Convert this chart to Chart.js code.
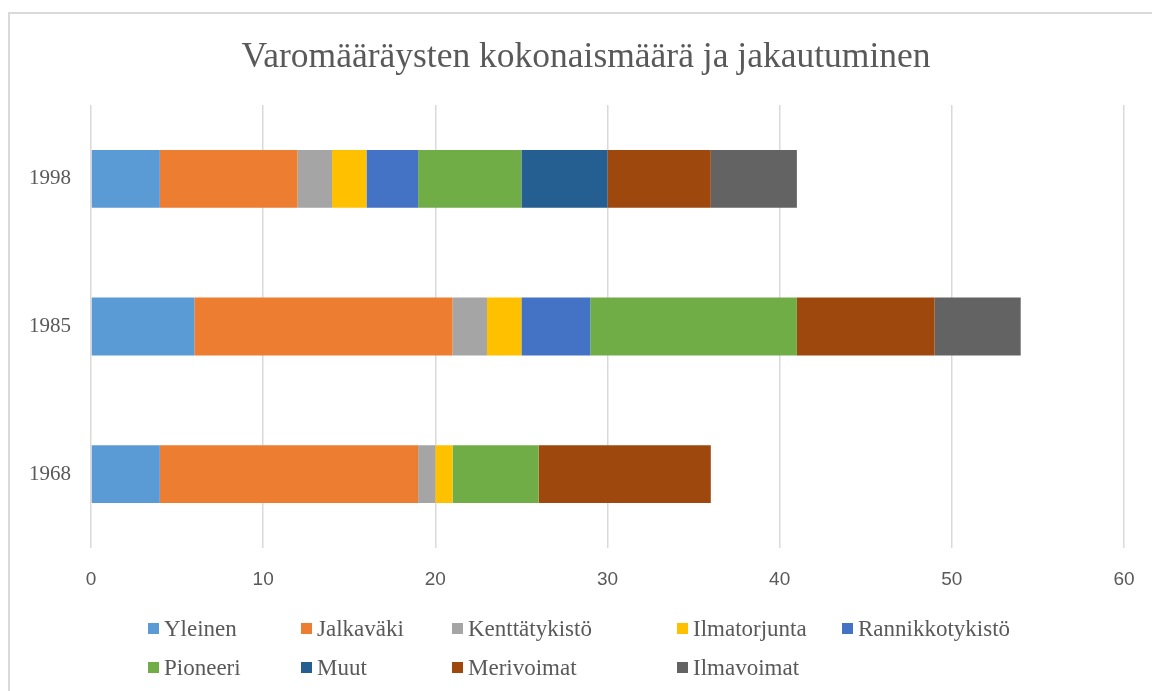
<!DOCTYPE html>
<html>
<head>
<meta charset="utf-8">
<script src="https://cdn.jsdelivr.net/npm/chart.js@4/dist/chart.umd.min.js"></script>
<style>
    html, body { margin: 0; padding: 0; background: #fff; overflow: hidden; }
    #wrap { position: relative; width: 1152px; height: 691px; }
    #frame { position: absolute; left: 8px; top: 12px; width: 1300px; height: 900px; border: 2px solid #d9d9d9; box-sizing: border-box; }
    #title { position: absolute; left: 0; top: 38px; width: 1172px; text-align: center; font-family: "Liberation Serif", serif; font-size: 35.5px; line-height: 35px; color: #595959; white-space: nowrap; }
    #legend { position: absolute; left: 0; top: 0; width: 1152px; height: 691px; pointer-events: none; }
    .item { position: absolute; font-family: "Liberation Serif", serif; font-size: 23px; color: #595959; white-space: nowrap; line-height: 24px; }
    .box { display: inline-block; width: 11px; height: 11px; margin-right: 5px; vertical-align: 2px; }
</style>
</head>
<body>
<div id="wrap">
    <div id="frame"></div>
    <canvas id="chart" width="1152" height="691"></canvas>
    <div id="title">Varomääräysten kokonaismäärä ja jakautuminen</div>
    <div id="legend"></div>
</div>
<script>
// Luokat ja sarjat
const years = ['1998', '1985', '1968'];
const seriesNames = ['Yleinen', 'Jalkaväki', 'Kenttätykistö', 'Ilmatorjunta', 'Rannikkotykistö', 'Pioneeri', 'Muut', 'Merivoimat', 'Ilmavoimat'];
const seriesColors = ['#5B9BD5', '#ED7D31', '#A5A5A5', '#FFC000', '#4472C4', '#70AD47', '#255E91', '#9E480E', '#636363'];

// Arvot vuosittain (1998, 1985, 1968)
const yleinen = [4, 6, 4];
const jalkavaki = [8, 15, 15];
const kenttatykisto = [2, 2, 1];
const ilmatorjunta = [2, 2, 1];
const rannikkotykisto = [3, 4, 0];
const pioneeri = [6, 12, 5];
const muut = [5, 0, 0];
const merivoimat = [6, 8, 10];
const ilmavoimat = [5, 5, 0];
const seriesValues = [yleinen, jalkavaki, kenttatykisto, ilmatorjunta, rannikkotykisto, pioneeri, muut, merivoimat, ilmavoimat];

const xTicks = [0, 10, 20, 30, 40, 50, 60];

const datasets = seriesNames.map((name, i) => ({
    label: name,
    data: seriesValues[i],
    backgroundColor: seriesColors[i],
    borderWidth: 0,
    categoryPercentage: 0.4,
    barPercentage: 0.98
}));

const chart = new Chart(document.getElementById('chart').getContext('2d'), {
    type: 'bar',
    data: { labels: years, datasets: datasets },
    options: {
        responsive: false,
        animation: false,
        indexAxis: 'y',
        layout: { padding: { top: 105, right: 28, left: 0, bottom: 0 } },
        plugins: {
            legend: { display: false },
            tooltip: { enabled: false },
            title: { display: false }
        },
        scales: {
            x: {
                stacked: true,
                min: 0,
                max: 60,
                afterBuildTicks: (axis) => { axis.ticks = xTicks.map(v => ({ value: v })); },
                afterFit: (axis) => { axis.height = 143; },
                grid: { color: '#d9d9d9', lineWidth: 1.5, drawTicks: true, tickLength: 17, tickColor: 'rgba(0,0,0,0)' },
                border: { display: false },
                ticks: { color: '#595959', padding: 3, font: { family: 'Liberation Sans', size: 19 } }
            },
            y: {
                stacked: true,
                afterFit: (axis) => { axis.width = 91; },
                grid: { display: false },
                border: { display: false },
                ticks: { color: '#595959', padding: 12, font: { family: 'Liberation Serif', size: 21 } }
            }
        }
    }
});

// Selite: kaksi riviä, sarakkeet kuten alkuperäisessä
const legendCols = [148, 301, 452, 677, 842];
const legendRows = [629, 668];
const legendEl = document.getElementById('legend');
seriesNames.forEach((name, i) => {
    const row = Math.floor(i / 5);
    const col = i % 5;
    const div = document.createElement('div');
    div.className = 'item';
    div.style.left = legendCols[col] + 'px';
    div.style.top = (legendRows[row] - 12) + 'px';
    div.innerHTML = '<span class="box" style="background:' + seriesColors[i] + '"></span>' + name;
    legendEl.appendChild(div);
});
</script>
</body>
</html>
